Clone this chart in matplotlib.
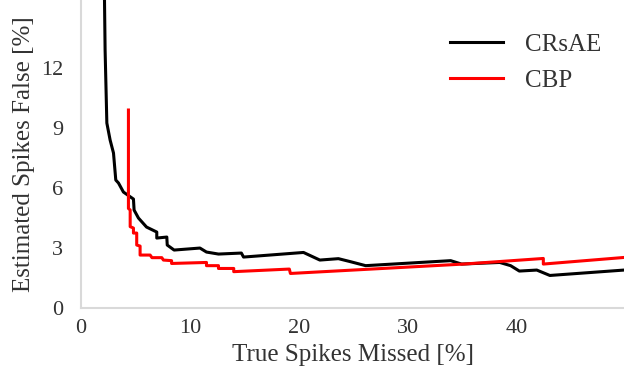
import numpy as np
import matplotlib
matplotlib.use("Agg")
import matplotlib.pyplot as plt

# CRsAE curve (true spikes missed %, estimated spikes false %)
crsae_x = [2.14, 2.2, 2.36, 2.66, 2.97, 3.18, 3.43, 3.88, 4.8, 4.86, 5.26, 6.0, 6.94, 6.94,
           7.86, 7.9, 8.53, 10.9, 11.5, 12.6, 14.7, 14.9, 17.3, 20.4, 21.9, 23.6, 24.7,
           26.1, 33.9, 34.9, 38.4, 39.4, 40.2, 41.8, 43.0, 49.8]
crsae_y = [15.6, 12.9, 9.25, 8.4, 7.75, 6.4, 6.25, 5.8, 5.45, 4.9, 4.5, 4.05, 3.8, 3.5,
           3.55, 3.15, 2.9, 3.0, 2.8, 2.7, 2.75, 2.55, 2.65, 2.78, 2.4, 2.47, 2.32,
           2.12, 2.37, 2.2, 2.28, 2.12, 1.85, 1.9, 1.63, 1.9]

# CBP curve
cbp_x = [4.34, 4.34, 4.5, 4.5, 4.8, 4.8, 5.1, 5.1, 5.41, 5.41, 6.33, 6.5, 7.4, 7.55,
         8.3, 8.3, 11.5, 11.5, 12.6, 12.6, 14.0, 14.0, 19.1, 19.2, 35.1, 42.4, 42.4, 49.8]
cbp_y = [9.9, 4.98, 4.9, 4.07, 4.0, 3.75, 3.75, 3.15, 3.1, 2.65, 2.65, 2.52, 2.52, 2.4,
         2.37, 2.23, 2.28, 2.12, 2.12, 1.98, 1.98, 1.82, 1.95, 1.73, 2.2, 2.48, 2.2, 2.53]

plt.rcParams['font.family'] = ['Liberation Serif', 'DejaVu Serif']

fig = plt.figure(figsize=(6.24, 3.78), dpi=100)
ax = fig.add_axes([0.13, 0.185, 0.87, 0.815])

ax.plot(crsae_x, crsae_y, color='black', lw=2.2, label='CRsAE')
ax.plot(cbp_x, cbp_y, color='#ff0000', lw=2.2, label='CBP')

ax.set_xlim(0, 49.8)
ax.set_ylim(0, 15.4)
ax.set_xticks([0, 10, 20, 30, 40])
ax.set_yticks([0, 3, 6, 9, 12])
ax.tick_params(length=0, labelsize=16, colors='#333333')
ax.tick_params(axis='x', pad=8)
ax.tick_params(axis='y', pad=13)
for s in ['top', 'right']:
    ax.spines[s].set_visible(False)
for s in ['left', 'bottom']:
    ax.spines[s].set_color('#d9d9d9')
    ax.spines[s].set_linewidth(1.5)

ax.set_xlabel('True Spikes Missed [%]', fontsize=18, color='#333333', labelpad=4)
ax.set_ylabel('Estimated Spikes False [%]', fontsize=18, color='#333333', labelpad=4)

leg = ax.legend(loc='upper right', frameon=False, fontsize=18, handlelength=2.1,
                handletextpad=0.9, labelspacing=0.55, bbox_to_anchor=(1.0, 0.965))
for t in leg.get_texts():
    t.set_color('#333333')

fig.savefig('out.png', dpi=100)
